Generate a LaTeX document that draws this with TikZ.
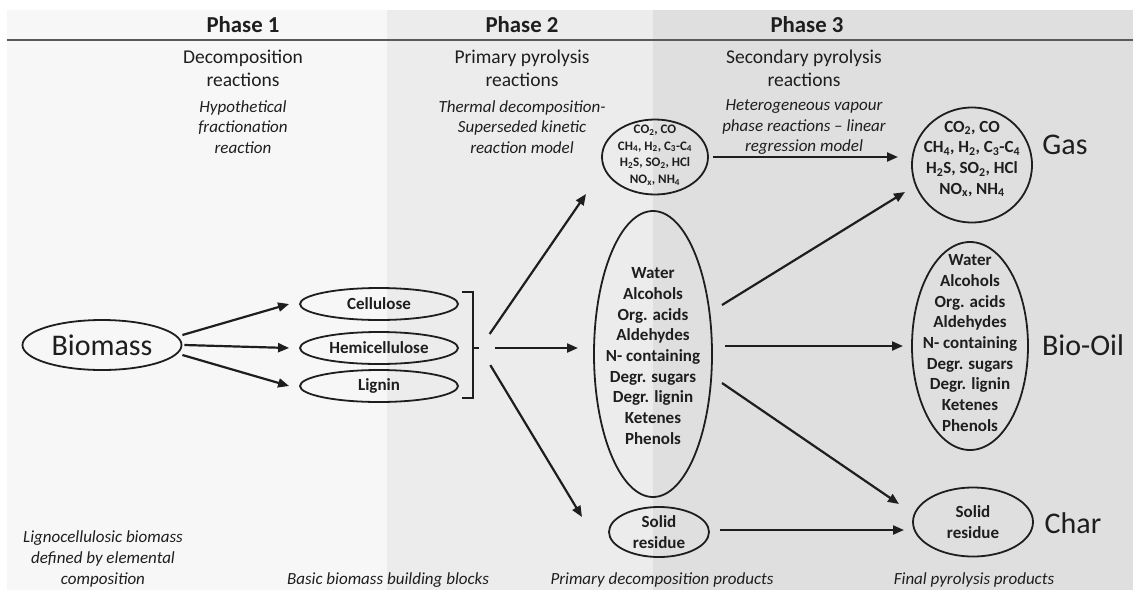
\documentclass[tikz,border=0pt]{standalone}
\usepackage{fontspec}
\setmainfont{Carlito}
\usetikzlibrary{shapes.geometric,arrows.meta}
\definecolor{pone}{HTML}{F7F7F7}
\definecolor{ptwo}{HTML}{ECECEC}
\definecolor{pthree}{HTML}{DFDFDF}
\definecolor{ink}{HTML}{1E1E1E}
\definecolor{rule}{HTML}{5A5A5A}
\begin{document}
\begin{tikzpicture}[x=1pt,y=-1pt,
  ell/.style={ellipse, draw=ink, line width=1.8pt, inner sep=0pt},
  arr/.style={draw=ink, line width=2.2pt, -{Triangle[length=11pt,width=9pt]}},
  head/.style={font=\fontsize{22.8}{27}\selectfont\bfseries, text=ink},
  subt/.style={font=\fontsize{19.5}{23}\selectfont, text=ink, align=center},
  ital/.style={font=\fontsize{17}{20.7}\selectfont\itshape, text=ink, align=center},
  lst/.style={font=\fontsize{17}{20.7}\selectfont\bfseries, text=ink, align=center, inner sep=0pt},
  sml/.style={font=\fontsize{13}{16.7}\selectfont\bfseries, text=ink, align=center, inner sep=0pt},
  bigl/.style={font=\fontsize{30}{36}\selectfont, text=ink},
]
\useasboundingbox (0,0) rectangle (1133,590);
\fill[white] (0,0) rectangle (1133,590);
\fill[pone] (7,10) rectangle (387,590);
\fill[ptwo] (387,10) rectangle (653,590);
\fill[pthree] (653,10) rectangle (1133,590);
\draw[rule, line width=2pt] (7,40) -- (1133,40);

% headings
\node[head] (h1) at (243,25) {Phase 1};
\node[head] (h2) at (522,25) {Phase 2};
\node[head] (h3) at (807,25) {Phase 3};
\node[subt] (s1) at (243,68.5) {Decomposition\\reactions};
\node[subt] (s2) at (522,68.5) {Primary pyrolysis\\reactions};
\node[subt] (s3) at (804,68.5) {Secondary pyrolysis\\reactions};
\node[ital] (i1) at (243,127) {Hypothetical\\fractionation\\reaction};
\node[ital] (i2) at (522,127) {Thermal decomposition-\\Superseded kinetic\\reaction model};
\node[ital] (i3) at (804,127) {Heterogeneous vapour\\phase reactions -- linear\\regression model};

% bottom labels
\node[ital] (b1) at (103,559) {Lignocellulosic biomass\\defined by elemental\\composition};
\node[ital] (b2) at (388,580) {Basic biomass building blocks};
\node[ital] (b3) at (662,580) {Primary decomposition products};
\node[ital] (b4) at (974,580) {Final pyrolysis products};

% phase 1 / 2 nodes
\node[ell, minimum width=159pt, minimum height=50pt] (bio) at (102,345) {};
\node[bigl] at (bio) {Biomass};
\node[ell, minimum width=158pt, minimum height=32pt] (cell) at (379,304) {};
\node[lst] at (cell) {Cellulose};
\node[ell, minimum width=158pt, minimum height=32pt] (hemi) at (379,348) {};
\node[lst] at (hemi) {Hemicellulose};
\node[ell, minimum width=158pt, minimum height=32pt] (lig) at (379,386) {};
\node[lst] at (lig) {Lignin};

\draw[ink, line width=1.8pt] (462,292) -- (473,292) -- (473,398) -- (462,398);
\draw[ink, line width=1.8pt] (473,348) -- (479,348);
\coordinate (hub) at (480,348);

% phase 2 products
\node[ell, minimum width=106pt, minimum height=75pt] (gas1) at (655,157) {};
\node[sml] at (655,155) {CO\textsubscript{2}, CO\\CH\textsubscript{4}, H\textsubscript{2}, C\textsubscript{3}-C\textsubscript{4}\\H\textsubscript{2}S, SO\textsubscript{2}, HCl\\NO\textsubscript{x}, NH\textsubscript{4}};
\node[ell, minimum width=118pt, minimum height=286pt] (oil1) at (653,354) {};
\node[lst] at (653,356) {Water\\Alcohols\\Org. acids\\Aldehydes\\N- containing\\Degr. sugars\\Degr. lignin\\Ketenes\\Phenols};
\node[ell, minimum width=100pt, minimum height=50pt] (char1) at (659,532) {};
\node[lst] at (char1) {Solid\\residue};

% final products
\node[ell, minimum width=120pt, minimum height=115pt] (gas2) at (972,165) {};
\node[lst] at (972,159) {CO\textsubscript{2}, CO\\CH\textsubscript{4}, H\textsubscript{2}, C\textsubscript{3}-C\textsubscript{4}\\H\textsubscript{2}S, SO\textsubscript{2}, HCl\\NO\textsubscript{x}, NH\textsubscript{4}};
\node[bigl] (lgas) at (1065,145) {Gas};
\node[ell, minimum width=116pt, minimum height=208pt] (oil2) at (970,346) {};
\node[lst] at (970,343) {Water\\Alcohols\\Org. acids\\Aldehydes\\N- containing\\Degr. sugars\\Degr. lignin\\Ketenes\\Phenols};
\node[bigl] (loil) at (1083,345) {Bio-Oil};
\node[ell, minimum width=120pt, minimum height=69pt] (char2) at (973,522) {};
\node[lst] at (char2) {Solid\\residue};
\node[bigl] (lchar) at (1073,523) {Char};

% arrows phase 1
\draw[arr] ([yshift=10pt]bio.east) -- ([xshift=-10pt]cell.west);
\draw[arr] ([xshift=2pt]bio.east) -- ([xshift=-10pt]hemi.west);
\draw[arr] ([yshift=-10pt]bio.east) -- ([xshift=-10pt]lig.west);

% arrows phase 2
\draw[arr, shorten <=17pt] (hub) -- ([shift={(-69,37)}]gas1.center);
\draw[arr, shorten <=15pt] (hub) -- ([shift={(-75,-6)}]oil1.center);
\draw[arr, shorten <=20pt] (hub) -- ([shift={(-77,-15)}]char1.center);

% arrows phase 3
\draw[arr] ([xshift=4pt]gas1.east) -- ([shift={(-74,-8)}]gas2.center);
\draw[arr] ([shift={(69,-49)}]oil1.center) -- ([shift={(-67,27)}]gas2.center);
\draw[arr] ([shift={(72,-8)}]oil1.center) -- ([shift={(-67,0)}]oil2.center);
\draw[arr] ([shift={(69,29)}]oil1.center) -- ([shift={(-74,-18)}]char2.center);
\draw[arr] ([shift={(61,-2)}]char1.center) -- ([shift={(-69,8)}]char2.center);
\end{tikzpicture}
\end{document}
